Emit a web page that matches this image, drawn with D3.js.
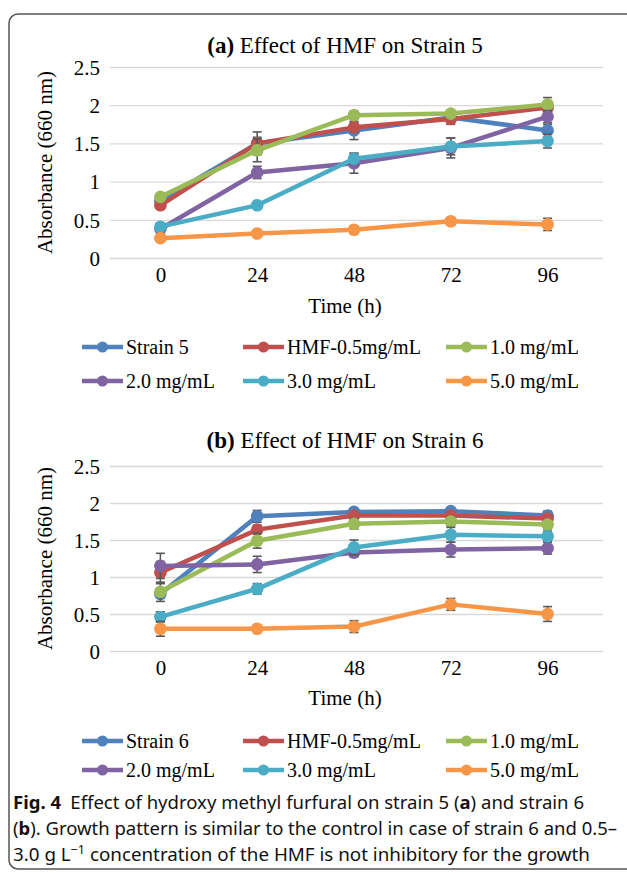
<!DOCTYPE html>
<html>
<head>
<meta charset="utf-8">
<script src="https://cdn.jsdelivr.net/npm/d3@7"></script>
<style>
  body { margin: 0; background: #fff; }
  svg { display: block; }
</style>
</head>
<body>
<div id="chart"></div>
<script>
// 数据
const times = ["0", "24", "48", "72", "96"];
const yTicks = [0, 0.5, 1, 1.5, 2, 2.5];
const seriesColors = ["#4F81BD", "#C0504D", "#9BBB59", "#8064A2", "#4BACC6", "#F79646"];

// (a) Strain 5
const namesA = ["Strain 5", "HMF-0.5mg/mL", "1.0 mg/mL", "2.0 mg/mL", "3.0 mg/mL", "5.0 mg/mL"];
const strain5 = [0.75, 1.50, 1.67, 1.84, 1.67];
const a_hmf05 = [0.69, 1.50, 1.71, 1.82, 1.97];
const a_hmf10 = [0.80, 1.41, 1.87, 1.89, 2.01];
const a_hmf20 = [0.38, 1.12, 1.24, 1.44, 1.85];
const a_hmf30 = [0.41, 0.69, 1.30, 1.46, 1.53];
const a_hmf50 = [0.26, 0.32, 0.37, 0.48, 0.44];
const strain5Err = [0.03, 0.08, 0.12, 0.05, 0.08];
const a_hmf05Err = [0.03, 0.15, 0.06, 0.07, 0.05];
const a_hmf10Err = [0.03, 0.15, 0.05, 0.04, 0.09];
const a_hmf20Err = [0.03, 0.08, 0.13, 0.13, 0.08];
const a_hmf30Err = [0.03, 0.03, 0.07, 0.11, 0.09];
const a_hmf50Err = [0.02, 0.03, 0.05, 0.05, 0.08];

// (b) Strain 6
const namesB = ["Strain 6", "HMF-0.5mg/mL", "1.0 mg/mL", "2.0 mg/mL", "3.0 mg/mL", "5.0 mg/mL"];
const strain6 = [0.77, 1.82, 1.88, 1.89, 1.83];
const b_hmf05 = [1.06, 1.64, 1.83, 1.83, 1.79];
const b_hmf10 = [0.80, 1.49, 1.72, 1.75, 1.71];
const b_hmf20 = [1.15, 1.17, 1.33, 1.37, 1.39];
const b_hmf30 = [0.46, 0.84, 1.40, 1.57, 1.55];
const b_hmf50 = [0.30, 0.30, 0.33, 0.63, 0.50];
const strain6Err = [0.05, 0.08, 0.04, 0.04, 0.06];
const b_hmf05Err = [0.15, 0.06, 0.05, 0.05, 0.05];
const b_hmf10Err = [0.13, 0.10, 0.07, 0.06, 0.06];
const b_hmf20Err = [0.17, 0.11, 0.06, 0.10, 0.08];
const b_hmf30Err = [0.07, 0.07, 0.10, 0.10, 0.07];
const b_hmf50Err = [0.10, 0.03, 0.08, 0.08, 0.10];

const W = 627, H = 874;
const svg = d3.select("#chart").append("svg")
    .attr("width", W)
    .attr("height", H);

// 外框
svg.append("rect")
    .attr("x", 9).attr("y", 14)
    .attr("width", 640).attr("height", 855)
    .attr("rx", 9).attr("ry", 9)
    .attr("fill", "none")
    .attr("stroke", "#555")
    .attr("stroke-width", 1.5);

const serif = "'Liberation Serif', 'Times New Roman', serif";

function drawPanel(cfg) {
    const g = svg.append("g");
    const x = d3.scalePoint().domain(times).range([112, 596]).padding(0.5);
    const y = d3.scaleLinear().domain([0, 2.5]).range([cfg.y0, cfg.y1]);

    // Y轴网格线和刻度
    const yAxis = g.append("g")
        .attr("transform", "translate(110,0)")
        .call(d3.axisLeft(y).tickValues(yTicks).tickFormat(d => String(d))
            .tickSizeInner(-493).tickSizeOuter(0).tickPadding(10));
    yAxis.select(".domain").remove();
    yAxis.selectAll("line").attr("stroke", "#d9d9d9").attr("stroke-width", 1.3);
    yAxis.selectAll("text")
        .attr("font-family", serif).attr("font-size", 21).attr("fill", "#000")
        .attr("dy", "0.35em");

    // X轴
    const xAxis = g.append("g")
        .attr("transform", `translate(0,${cfg.y0})`)
        .call(d3.axisBottom(x).tickSize(0).tickPadding(9));
    xAxis.select(".domain").remove();
    xAxis.selectAll("text")
        .attr("font-family", serif).attr("font-size", 21).attr("fill", "#000");

    // 标题
    const title = g.append("text")
        .attr("x", 345).attr("y", cfg.titleY)
        .attr("text-anchor", "middle")
        .attr("font-family", serif).attr("font-size", 23);
    title.append("tspan").attr("font-weight", "bold").text(cfg.tag);
    title.append("tspan").text(" Effect of HMF on " + cfg.strain);

    // 轴标题
    g.append("text")
        .attr("transform", `translate(52,${(cfg.y0 + cfg.y1) / 2}) rotate(-90)`)
        .attr("text-anchor", "middle")
        .attr("font-family", serif).attr("font-size", 21)
        .text("Absorbance (660 nm)");
    g.append("text")
        .attr("x", 345).attr("y", cfg.xTitleY)
        .attr("text-anchor", "middle")
        .attr("font-family", serif).attr("font-size", 21)
        .text("Time (h)");

    const line = d3.line()
        .x((d, i) => x(times[i]))
        .y(d => y(d));

    cfg.series.forEach((vals, k) => {
        const col = seriesColors[k];
        const errs = cfg.errors[k];
        const sg = g.append("g");
        sg.append("path")
            .datum(vals)
            .attr("fill", "none")
            .attr("stroke", col)
            .attr("stroke-width", 4.5)
            .attr("stroke-linejoin", "round")
            .attr("d", line);
        // 误差线
        const eb = sg.selectAll(".err")
            .data(vals)
            .enter().append("g");
        eb.append("line")
            .attr("x1", (d, i) => x(times[i])).attr("x2", (d, i) => x(times[i]))
            .attr("y1", (d, i) => y(d - errs[i])).attr("y2", (d, i) => y(d + errs[i]));
        eb.append("line")
            .attr("x1", (d, i) => x(times[i]) - 4.5).attr("x2", (d, i) => x(times[i]) + 4.5)
            .attr("y1", (d, i) => y(d + errs[i])).attr("y2", (d, i) => y(d + errs[i]));
        eb.append("line")
            .attr("x1", (d, i) => x(times[i]) - 4.5).attr("x2", (d, i) => x(times[i]) + 4.5)
            .attr("y1", (d, i) => y(d - errs[i])).attr("y2", (d, i) => y(d - errs[i]));
        eb.selectAll("line").attr("stroke", "#595959").attr("stroke-width", 1.6);
        sg.selectAll(".dot")
            .data(vals)
            .enter().append("circle")
            .attr("cx", (d, i) => x(times[i]))
            .attr("cy", d => y(d))
            .attr("r", 6.3)
            .attr("fill", col);
    });

    // 图例
    const colX = [82, 243, 446];
    cfg.names.forEach((name, k) => {
        const lx = colX[k % 3];
        const ly = cfg.legendY[Math.floor(k / 3)];
        const lg = g.append("g");
        lg.append("line")
            .attr("x1", lx).attr("x2", lx + 41)
            .attr("y1", ly).attr("y2", ly)
            .attr("stroke", seriesColors[k]).attr("stroke-width", 4.5);
        lg.append("circle")
            .attr("cx", lx + 20.5).attr("cy", ly).attr("r", 5.5)
            .attr("fill", seriesColors[k]);
        lg.append("text")
            .attr("x", lx + 44).attr("y", ly)
            .attr("dy", "0.35em")
            .attr("font-family", serif).attr("font-size", 20)
            .text(name);
    });
}

drawPanel({
    tag: "(a)", strain: "Strain 5", titleY: 53,
    y0: 258, y1: 67, xTitleY: 313, legendY: [347, 381],
    names: namesA,
    series: [strain5, a_hmf05, a_hmf10, a_hmf20, a_hmf30, a_hmf50],
    errors: [strain5Err, a_hmf05Err, a_hmf10Err, a_hmf20Err, a_hmf30Err, a_hmf50Err]
});

drawPanel({
    tag: "(b)", strain: "Strain 6", titleY: 448,
    y0: 651, y1: 466, xTitleY: 705, legendY: [741, 770],
    names: namesB,
    series: [strain6, b_hmf05, b_hmf10, b_hmf20, b_hmf30, b_hmf50],
    errors: [strain6Err, b_hmf05Err, b_hmf10Err, b_hmf20Err, b_hmf30Err, b_hmf50Err]
});

// 图注
const sans = "'Noto Sans', 'Open Sans', sans-serif";
const cap1 = svg.append("text").attr("x", 13).attr("y", 809)
    .attr("font-family", sans).attr("font-size", 18).attr("fill", "#111")
    .attr("textLength", 571).attr("lengthAdjust", "spacingAndGlyphs");
cap1.append("tspan").attr("font-weight", "bold").text("Fig. 4");
cap1.append("tspan").text("\u2002Effect of hydroxy methyl furfural on strain 5 (");
cap1.append("tspan").attr("font-weight", "bold").text("a");
cap1.append("tspan").text(") and strain 6");

const cap2 = svg.append("text").attr("x", 13).attr("y", 835)
    .attr("font-family", sans).attr("font-size", 18).attr("fill", "#111")
    .attr("textLength", 604).attr("lengthAdjust", "spacingAndGlyphs");
cap2.append("tspan").text("(");
cap2.append("tspan").attr("font-weight", "bold").text("b");
cap2.append("tspan").text("). Growth pattern is similar to the control in case of strain 6 and 0.5\u2013");

const cap3 = svg.append("text").attr("x", 13).attr("y", 861)
    .attr("font-family", sans).attr("font-size", 18).attr("fill", "#111")
    .attr("textLength", 577).attr("lengthAdjust", "spacingAndGlyphs");
cap3.append("tspan").text("3.0 g L");
cap3.append("tspan").attr("font-size", 12).attr("dy", -7).text("\u22121");
cap3.append("tspan").attr("dy", 7).text(" concentration of the HMF is not inhibitory for the growth");
</script>
</body>
</html>
